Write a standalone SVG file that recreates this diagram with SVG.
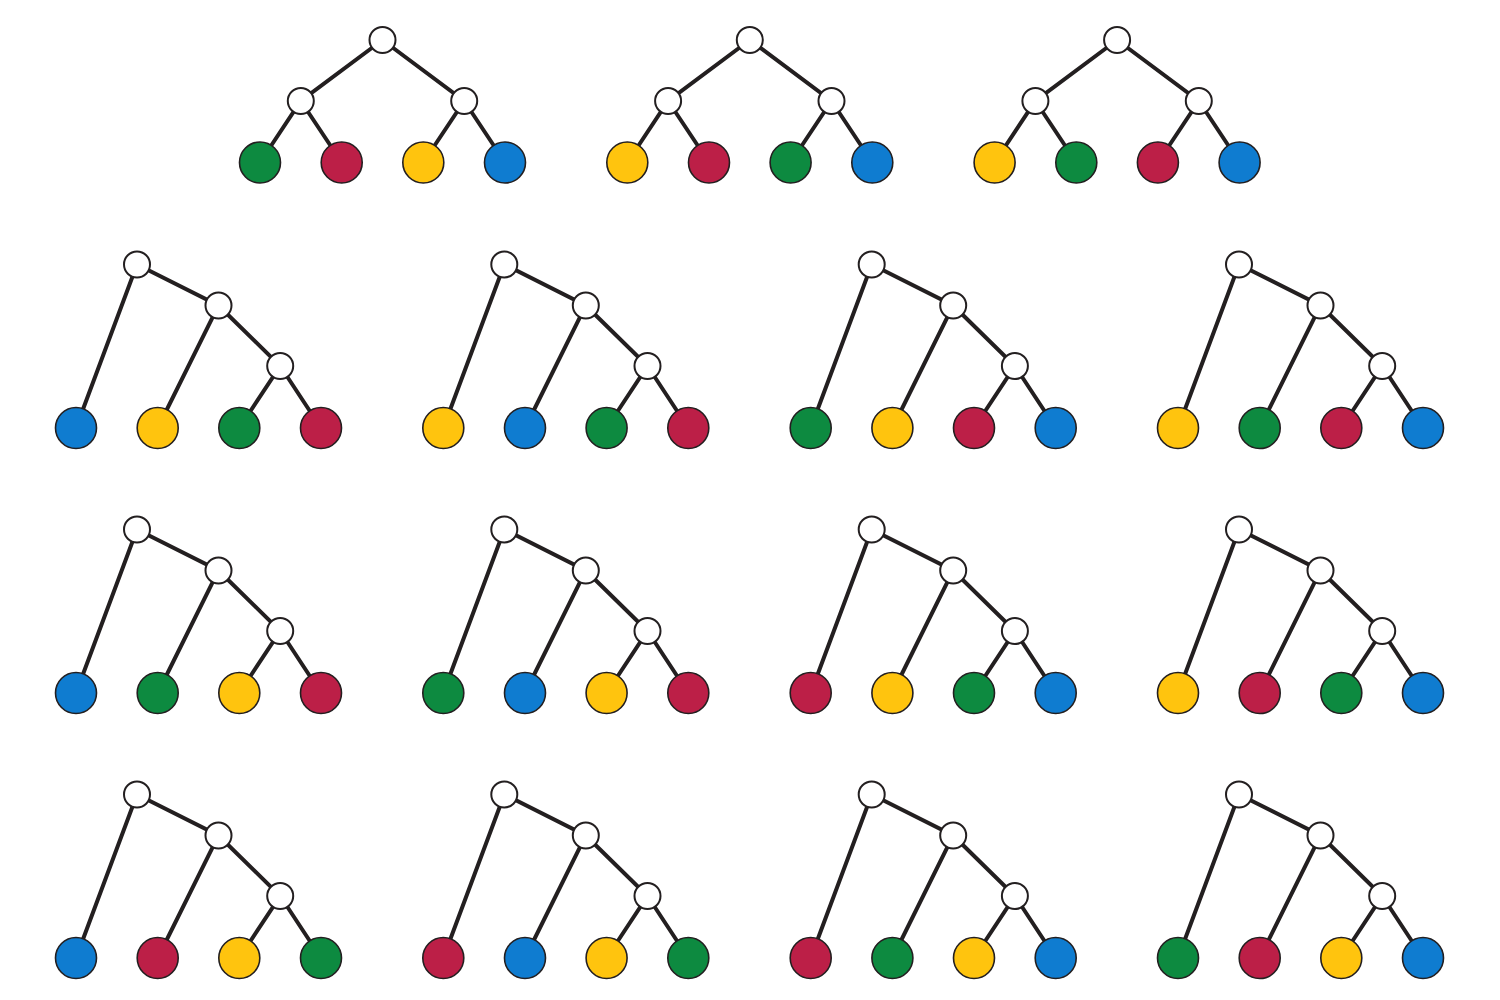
<svg xmlns="http://www.w3.org/2000/svg" width="1500" height="1000" viewBox="0 0 1500 1000">
<style>
.e{stroke:#231f20;stroke-width:4;stroke-linecap:butt;fill:none}
.i{fill:#ffffff;stroke:#231f20;stroke-width:2}
.l{stroke:#231f20;stroke-width:1.6}
.G{fill:#0d8a40}
.R{fill:#bc1f47}
.Y{fill:#ffc40e}
.B{fill:#0f7cd0}
</style>
<rect width="1500" height="1000" fill="#ffffff"/>
<!-- connectors -->
<g id="connectors">
<g transform="translate(260,162.5)"><path class="e" d="M122.5,-122.5L40.8,-61.5L0,0M40.8,-61.5L81.7,0M122.5,-122.5L204.2,-61.5L163.3,0M204.2,-61.5L245,0"/></g>
<g transform="translate(627.3,162.5)"><path class="e" d="M122.5,-122.5L40.8,-61.5L0,0M40.8,-61.5L81.7,0M122.5,-122.5L204.2,-61.5L163.3,0M204.2,-61.5L245,0"/></g>
<g transform="translate(994.6,162.5)"><path class="e" d="M122.5,-122.5L40.8,-61.5L0,0M40.8,-61.5L81.7,0M122.5,-122.5L204.2,-61.5L163.3,0M204.2,-61.5L245,0"/></g>
<g transform="translate(76,428)"><path id="cat" class="e" d="M0,0L61,-163.5L142.5,-122.5L81.7,0M142.5,-122.5L204.2,-62L163.3,0M204.2,-62L245,0"/></g>
<g transform="translate(443.3,428)"><use href="#cat"/></g>
<g transform="translate(810.7,428)"><use href="#cat"/></g>
<g transform="translate(1178,428)"><use href="#cat"/></g>
<g transform="translate(76,693)"><use href="#cat"/></g>
<g transform="translate(443.3,693)"><use href="#cat"/></g>
<g transform="translate(810.7,693)"><use href="#cat"/></g>
<g transform="translate(1178,693)"><use href="#cat"/></g>
<g transform="translate(76,958)"><use href="#cat"/></g>
<g transform="translate(443.3,958)"><use href="#cat"/></g>
<g transform="translate(810.7,958)"><use href="#cat"/></g>
<g transform="translate(1178,958)"><use href="#cat"/></g>
</g>
<!-- top row balanced trees -->
<g id="t1" transform="translate(260,162.5)">
<g id="t1-root"><circle class="i" cx="122.5" cy="-122.5" r="13"/></g>
<g id="t1-a"><circle class="i" cx="40.8" cy="-61.5" r="13"/></g>
<g id="t1-b"><circle class="i" cx="204.2" cy="-61.5" r="13"/></g>
<g id="t1-l1"><circle class="l G" cx="0" cy="0" r="20.5"/></g>
<g id="t1-l2"><circle class="l R" cx="81.7" cy="0" r="20.5"/></g>
<g id="t1-l3"><circle class="l Y" cx="163.3" cy="0" r="20.5"/></g>
<g id="t1-l4"><circle class="l B" cx="245" cy="0" r="20.5"/></g>
</g>
<g id="t2" transform="translate(627.3,162.5)">
<g id="t2-root"><circle class="i" cx="122.5" cy="-122.5" r="13"/></g>
<g id="t2-a"><circle class="i" cx="40.8" cy="-61.5" r="13"/></g>
<g id="t2-b"><circle class="i" cx="204.2" cy="-61.5" r="13"/></g>
<g id="t2-l1"><circle class="l Y" cx="0" cy="0" r="20.5"/></g>
<g id="t2-l2"><circle class="l R" cx="81.7" cy="0" r="20.5"/></g>
<g id="t2-l3"><circle class="l G" cx="163.3" cy="0" r="20.5"/></g>
<g id="t2-l4"><circle class="l B" cx="245" cy="0" r="20.5"/></g>
</g>
<g id="t3" transform="translate(994.6,162.5)">
<g id="t3-root"><circle class="i" cx="122.5" cy="-122.5" r="13"/></g>
<g id="t3-a"><circle class="i" cx="40.8" cy="-61.5" r="13"/></g>
<g id="t3-b"><circle class="i" cx="204.2" cy="-61.5" r="13"/></g>
<g id="t3-l1"><circle class="l Y" cx="0" cy="0" r="20.5"/></g>
<g id="t3-l2"><circle class="l G" cx="81.7" cy="0" r="20.5"/></g>
<g id="t3-l3"><circle class="l R" cx="163.3" cy="0" r="20.5"/></g>
<g id="t3-l4"><circle class="l B" cx="245" cy="0" r="20.5"/></g>
</g>
<!-- caterpillar trees -->
<g id="c1" transform="translate(76,428)">
<g id="c1-root"><circle class="i" cx="61" cy="-163.5" r="13"/></g>
<g id="c1-a"><circle class="i" cx="142.5" cy="-122.5" r="13"/></g>
<g id="c1-b"><circle class="i" cx="204.2" cy="-62" r="13"/></g>
<g id="c1-l1"><circle class="l B" cx="0" cy="0" r="20.5"/></g>
<g id="c1-l2"><circle class="l Y" cx="81.7" cy="0" r="20.5"/></g>
<g id="c1-l3"><circle class="l G" cx="163.3" cy="0" r="20.5"/></g>
<g id="c1-l4"><circle class="l R" cx="245" cy="0" r="20.5"/></g>
</g>
<g id="c2" transform="translate(443.3,428)">
<g id="c2-root"><circle class="i" cx="61" cy="-163.5" r="13"/></g>
<g id="c2-a"><circle class="i" cx="142.5" cy="-122.5" r="13"/></g>
<g id="c2-b"><circle class="i" cx="204.2" cy="-62" r="13"/></g>
<g id="c2-l1"><circle class="l Y" cx="0" cy="0" r="20.5"/></g>
<g id="c2-l2"><circle class="l B" cx="81.7" cy="0" r="20.5"/></g>
<g id="c2-l3"><circle class="l G" cx="163.3" cy="0" r="20.5"/></g>
<g id="c2-l4"><circle class="l R" cx="245" cy="0" r="20.5"/></g>
</g>
<g id="c3" transform="translate(810.7,428)">
<g id="c3-root"><circle class="i" cx="61" cy="-163.5" r="13"/></g>
<g id="c3-a"><circle class="i" cx="142.5" cy="-122.5" r="13"/></g>
<g id="c3-b"><circle class="i" cx="204.2" cy="-62" r="13"/></g>
<g id="c3-l1"><circle class="l G" cx="0" cy="0" r="20.5"/></g>
<g id="c3-l2"><circle class="l Y" cx="81.7" cy="0" r="20.5"/></g>
<g id="c3-l3"><circle class="l R" cx="163.3" cy="0" r="20.5"/></g>
<g id="c3-l4"><circle class="l B" cx="245" cy="0" r="20.5"/></g>
</g>
<g id="c4" transform="translate(1178,428)">
<g id="c4-root"><circle class="i" cx="61" cy="-163.5" r="13"/></g>
<g id="c4-a"><circle class="i" cx="142.5" cy="-122.5" r="13"/></g>
<g id="c4-b"><circle class="i" cx="204.2" cy="-62" r="13"/></g>
<g id="c4-l1"><circle class="l Y" cx="0" cy="0" r="20.5"/></g>
<g id="c4-l2"><circle class="l G" cx="81.7" cy="0" r="20.5"/></g>
<g id="c4-l3"><circle class="l R" cx="163.3" cy="0" r="20.5"/></g>
<g id="c4-l4"><circle class="l B" cx="245" cy="0" r="20.5"/></g>
</g>
<g id="c5" transform="translate(76,693)">
<g id="c5-root"><circle class="i" cx="61" cy="-163.5" r="13"/></g>
<g id="c5-a"><circle class="i" cx="142.5" cy="-122.5" r="13"/></g>
<g id="c5-b"><circle class="i" cx="204.2" cy="-62" r="13"/></g>
<g id="c5-l1"><circle class="l B" cx="0" cy="0" r="20.5"/></g>
<g id="c5-l2"><circle class="l G" cx="81.7" cy="0" r="20.5"/></g>
<g id="c5-l3"><circle class="l Y" cx="163.3" cy="0" r="20.5"/></g>
<g id="c5-l4"><circle class="l R" cx="245" cy="0" r="20.5"/></g>
</g>
<g id="c6" transform="translate(443.3,693)">
<g id="c6-root"><circle class="i" cx="61" cy="-163.5" r="13"/></g>
<g id="c6-a"><circle class="i" cx="142.5" cy="-122.5" r="13"/></g>
<g id="c6-b"><circle class="i" cx="204.2" cy="-62" r="13"/></g>
<g id="c6-l1"><circle class="l G" cx="0" cy="0" r="20.5"/></g>
<g id="c6-l2"><circle class="l B" cx="81.7" cy="0" r="20.5"/></g>
<g id="c6-l3"><circle class="l Y" cx="163.3" cy="0" r="20.5"/></g>
<g id="c6-l4"><circle class="l R" cx="245" cy="0" r="20.5"/></g>
</g>
<g id="c7" transform="translate(810.7,693)">
<g id="c7-root"><circle class="i" cx="61" cy="-163.5" r="13"/></g>
<g id="c7-a"><circle class="i" cx="142.5" cy="-122.5" r="13"/></g>
<g id="c7-b"><circle class="i" cx="204.2" cy="-62" r="13"/></g>
<g id="c7-l1"><circle class="l R" cx="0" cy="0" r="20.5"/></g>
<g id="c7-l2"><circle class="l Y" cx="81.7" cy="0" r="20.5"/></g>
<g id="c7-l3"><circle class="l G" cx="163.3" cy="0" r="20.5"/></g>
<g id="c7-l4"><circle class="l B" cx="245" cy="0" r="20.5"/></g>
</g>
<g id="c8" transform="translate(1178,693)">
<g id="c8-root"><circle class="i" cx="61" cy="-163.5" r="13"/></g>
<g id="c8-a"><circle class="i" cx="142.5" cy="-122.5" r="13"/></g>
<g id="c8-b"><circle class="i" cx="204.2" cy="-62" r="13"/></g>
<g id="c8-l1"><circle class="l Y" cx="0" cy="0" r="20.5"/></g>
<g id="c8-l2"><circle class="l R" cx="81.7" cy="0" r="20.5"/></g>
<g id="c8-l3"><circle class="l G" cx="163.3" cy="0" r="20.5"/></g>
<g id="c8-l4"><circle class="l B" cx="245" cy="0" r="20.5"/></g>
</g>
<g id="c9" transform="translate(76,958)">
<g id="c9-root"><circle class="i" cx="61" cy="-163.5" r="13"/></g>
<g id="c9-a"><circle class="i" cx="142.5" cy="-122.5" r="13"/></g>
<g id="c9-b"><circle class="i" cx="204.2" cy="-62" r="13"/></g>
<g id="c9-l1"><circle class="l B" cx="0" cy="0" r="20.5"/></g>
<g id="c9-l2"><circle class="l R" cx="81.7" cy="0" r="20.5"/></g>
<g id="c9-l3"><circle class="l Y" cx="163.3" cy="0" r="20.5"/></g>
<g id="c9-l4"><circle class="l G" cx="245" cy="0" r="20.5"/></g>
</g>
<g id="c10" transform="translate(443.3,958)">
<g id="c10-root"><circle class="i" cx="61" cy="-163.5" r="13"/></g>
<g id="c10-a"><circle class="i" cx="142.5" cy="-122.5" r="13"/></g>
<g id="c10-b"><circle class="i" cx="204.2" cy="-62" r="13"/></g>
<g id="c10-l1"><circle class="l R" cx="0" cy="0" r="20.5"/></g>
<g id="c10-l2"><circle class="l B" cx="81.7" cy="0" r="20.5"/></g>
<g id="c10-l3"><circle class="l Y" cx="163.3" cy="0" r="20.5"/></g>
<g id="c10-l4"><circle class="l G" cx="245" cy="0" r="20.5"/></g>
</g>
<g id="c11" transform="translate(810.7,958)">
<g id="c11-root"><circle class="i" cx="61" cy="-163.5" r="13"/></g>
<g id="c11-a"><circle class="i" cx="142.5" cy="-122.5" r="13"/></g>
<g id="c11-b"><circle class="i" cx="204.2" cy="-62" r="13"/></g>
<g id="c11-l1"><circle class="l R" cx="0" cy="0" r="20.5"/></g>
<g id="c11-l2"><circle class="l G" cx="81.7" cy="0" r="20.5"/></g>
<g id="c11-l3"><circle class="l Y" cx="163.3" cy="0" r="20.5"/></g>
<g id="c11-l4"><circle class="l B" cx="245" cy="0" r="20.5"/></g>
</g>
<g id="c12" transform="translate(1178,958)">
<g id="c12-root"><circle class="i" cx="61" cy="-163.5" r="13"/></g>
<g id="c12-a"><circle class="i" cx="142.5" cy="-122.5" r="13"/></g>
<g id="c12-b"><circle class="i" cx="204.2" cy="-62" r="13"/></g>
<g id="c12-l1"><circle class="l G" cx="0" cy="0" r="20.5"/></g>
<g id="c12-l2"><circle class="l R" cx="81.7" cy="0" r="20.5"/></g>
<g id="c12-l3"><circle class="l Y" cx="163.3" cy="0" r="20.5"/></g>
<g id="c12-l4"><circle class="l B" cx="245" cy="0" r="20.5"/></g>
</g>
</svg>
